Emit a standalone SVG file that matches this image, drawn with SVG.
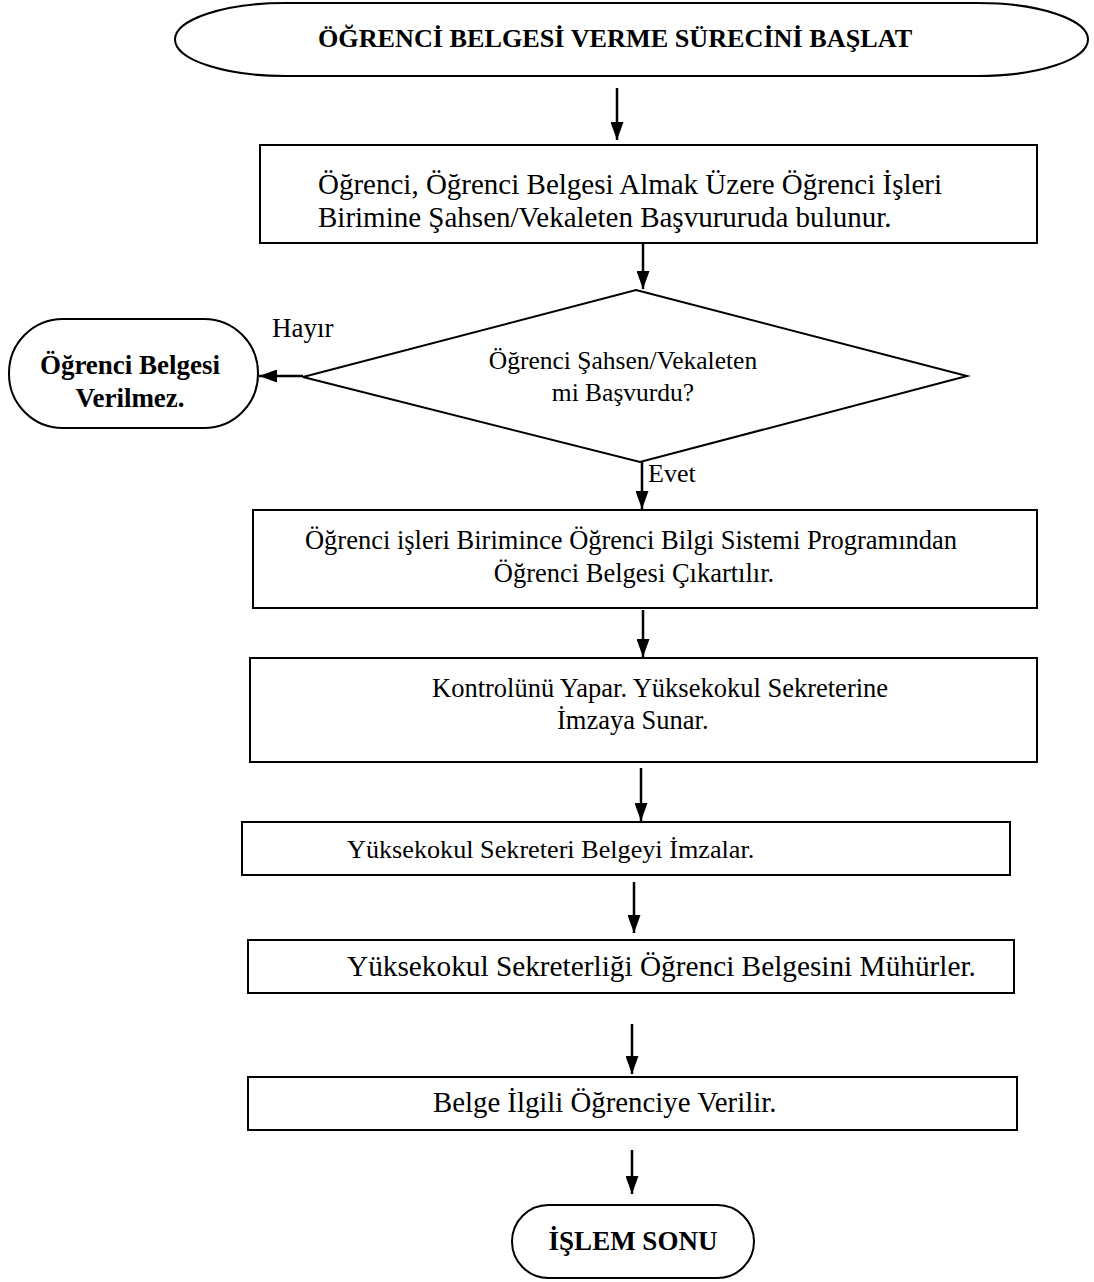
<svg xmlns="http://www.w3.org/2000/svg" width="1094" height="1282" viewBox="0 0 1094 1282">
<style>
.s{fill:#fff;stroke:#000;stroke-width:2}
.t{font-family:"Liberation Serif","Times New Roman",serif;fill:#000}
.b{font-weight:bold}
.c{stroke:#000;stroke-width:2.5;fill:none}
</style>
<defs>
<marker id="ah" viewBox="0 0 10 10" refX="10" refY="5" markerWidth="18" markerHeight="13" markerUnits="userSpaceOnUse" orient="auto" preserveAspectRatio="none">
<path d="M0,0 L10,5 L0,10 z" fill="#000"/>
</marker>
</defs>
<rect width="1094" height="1282" fill="#fff"/>
<g id="start">
<rect class="s" x="175" y="3" width="913" height="73" rx="110" ry="36.5"/>
<text class="t b" x="615" y="47" font-size="26.2" text-anchor="middle">ÖĞRENCİ BELGESİ VERME SÜRECİNİ BAŞLAT</text>
</g>
<g id="apply">
<rect class="s" x="260" y="145" width="777" height="98"/>
<text class="t" x="318" y="194" font-size="29">Öğrenci, Öğrenci Belgesi Almak Üzere Öğrenci İşleri</text>
<text class="t" x="318" y="227" font-size="29">Birimine Şahsen/Vekaleten Başvururuda bulunur.</text>
</g>
<g id="decision">
<polygon class="s" points="636,290 967,376 640,462 303,377"/>
<text class="t" x="623" y="369" font-size="25.5" text-anchor="middle">Öğrenci Şahsen/Vekaleten</text>
<text class="t" x="623" y="401" font-size="25.5" text-anchor="middle">mi Başvurdu?</text>
</g>
<g id="reject">
<rect class="s" x="9" y="319" width="249" height="109" rx="54" ry="54"/>
<text class="t b" x="130" y="374" font-size="27" text-anchor="middle">Öğrenci Belgesi</text>
<text class="t b" x="130" y="407" font-size="27" text-anchor="middle">Verilmez.</text>
</g>
<g id="print">
<rect class="s" x="253" y="510" width="784" height="98"/>
<text class="t" x="631" y="549" font-size="26.5" text-anchor="middle">Öğrenci işleri Birimince Öğrenci Bilgi Sistemi Programından</text>
<text class="t" x="634" y="582" font-size="26.5" text-anchor="middle">Öğrenci Belgesi Çıkartılır.</text>
</g>
<g id="check">
<rect class="s" x="250" y="658" width="787" height="104"/>
<text class="t" x="432" y="697" font-size="26.5">Kontrolünü Yapar. Yüksekokul Sekreterine</text>
<text class="t" x="557" y="729" font-size="26.5">İmzaya Sunar.</text>
</g>
<g id="sign">
<rect class="s" x="242" y="822" width="768" height="53"/>
<text class="t" x="347" y="858" font-size="26.2">Yüksekokul Sekreteri Belgeyi İmzalar.</text>
</g>
<g id="seal">
<rect class="s" x="248" y="940" width="766" height="53"/>
<text class="t" x="347" y="976" font-size="29.3">Yüksekokul Sekreterliği Öğrenci Belgesini Mühürler.</text>
</g>
<g id="deliver">
<rect class="s" x="248" y="1077" width="769" height="53"/>
<text class="t" x="433" y="1112" font-size="28.8">Belge İlgili Öğrenciye Verilir.</text>
</g>
<g id="end">
<rect class="s" x="512" y="1205" width="242" height="73" rx="36.5" ry="36.5"/>
<text class="t b" x="633" y="1250" font-size="27" text-anchor="middle">İŞLEM SONU</text>
</g>
<g id="connectors">
<line class="c" x1="617" y1="88" x2="617" y2="140" marker-end="url(#ah)"/>
<line class="c" x1="643" y1="243" x2="643" y2="289" marker-end="url(#ah)"/>
<line class="c" x1="303" y1="376" x2="259" y2="376" marker-end="url(#ah)"/>
<line class="c" x1="642" y1="462" x2="642" y2="509" marker-end="url(#ah)"/>
<line class="c" x1="643" y1="610" x2="643" y2="657" marker-end="url(#ah)"/>
<line class="c" x1="641" y1="768" x2="641" y2="821" marker-end="url(#ah)"/>
<line class="c" x1="634" y1="882" x2="634" y2="933" marker-end="url(#ah)"/>
<line class="c" x1="632" y1="1024" x2="632" y2="1074" marker-end="url(#ah)"/>
<line class="c" x1="632" y1="1150" x2="632" y2="1194" marker-end="url(#ah)"/>
</g>
<g id="labels">
<text class="t" x="272" y="337" font-size="27">Hayır</text>
<text class="t" x="648" y="482" font-size="26">Evet</text>
</g>
</svg>
